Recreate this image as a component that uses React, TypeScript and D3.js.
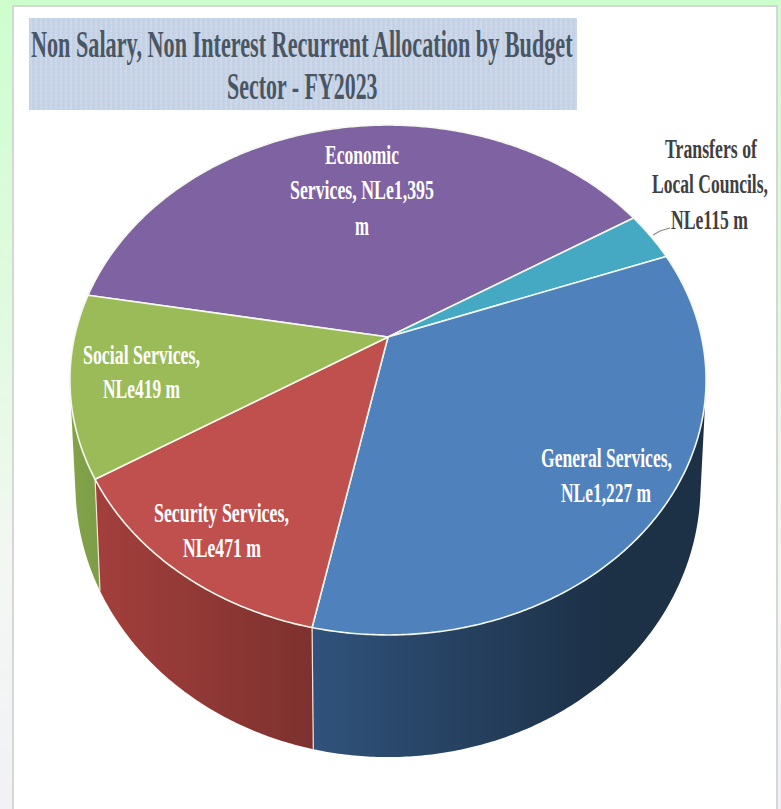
import React from "react";
import * as d3 from "d3";

// Budget sectors, clockwise from the Economic Services slice.
const sectors = [
  "Economic Services",
  "Transfers of Local Councils",
  "General Services",
  "Security Services",
  "Social Services",
];
const allocations = [1395, 115, 1227, 471, 419]; // NLe millions
const lineBreaks = [[1, 2, 1], [2, 2, 2], [2, 2], [2, 2], [2, 2]];
const sliceColors = ["#7f62a1", "#46a9c3", "#4f81bd", "#c0504d", "#9bbb59"];
const wallLeftColors = ["#5f4a7a", "#368095", "#30527b", "#a23f3c", "#83a34a"];
const wallRightColors = ["#4e3c66", "#2c6a7b", "#1c3046", "#7d312e", "#7c9b46"];
const titleLines = [
  "Non Salary, Non Interest Recurrent Allocation by Budget",
  "Sector - FY2023",
];

const WIDTH = 781;
const HEIGHT = 809;
const SERIF = "'Liberation Serif', 'Times New Roman', serif";

// One line box per label line: left edge, width and baseline.
const labelBoxes = [
  [[325, 74, 164], [290, 144, 199], [355, 14, 235]],
  [[665, 92, 158], [652, 116, 193], [671, 77, 229]],
  [[541, 131, 467], [561, 90, 502]],
  [[154, 135, 522], [183, 78, 557]],
  [[83, 117, 364], [103, 77, 398]],
];
const labelFill = ["#fff", "#404040", "#fff", "#fff", "#fff"];
const titleBoxes = [
  [31, 543, 57],
  [227, 151, 99],
];

// The serif face is squeezed to each line's width with a horizontal scale.
const measure = document.createElement("canvas").getContext("2d")!;
const squeeze = (text: string, size: number, width: number) => {
  measure.font = `bold ${size}px ${SERIF}`;
  return width / measure.measureText(text).width;
};

// A horizontal disc seen in perspective: angle (clockwise from the far side) to screen.
type Disc = { cx: number; cy: number; a: number; b: number; k: number };
const topDisc: Disc = { cx: 388, cy: 337, a: 313.5, b: 247.7, k: 0.1686 };
const baseDisc: Disc = { cx: 388, cy: 439, a: 308, b: 264, k: 0.17 };

const project = (d: Disc, angle: number): [number, number] => {
  const u = Math.sin(angle);
  const v = -Math.cos(angle);
  const w = 1 - d.k * v;
  return [d.cx + (d.a * u) / w, d.cy + (d.b * v) / w];
};

const START = (-80 * Math.PI) / 180;
const pie = d3
  .pie<number>()
  .sort(null)
  .startAngle(START)
  .endAngle(START + 2 * Math.PI);
const arcs = pie(allocations);
const outline = d3.line();
const formatValue = d3.format(",");

const sweep = (from: number, to: number) => {
  const steps = Math.max(2, Math.ceil((to - from) / (Math.PI / 360)));
  return d3.range(steps + 1).map((i) => from + ((to - from) * i) / steps);
};

const topPath = (from: number, to: number) =>
  outline([
    [topDisc.cx, topDisc.cy],
    ...sweep(from, to).map((t) => project(topDisc, t)),
  ]) + "Z";

// The outer wall is a run of thin quads with the same winding, so it fills as one shape.
const wallPath = (from: number, to: number) => {
  const angles = sweep(from, to);
  return d3
    .pairs(angles)
    .map(([t0, t1]) => {
      const quad = [
        project(topDisc, t0),
        project(topDisc, t1),
        project(baseDisc, t1),
        project(baseDisc, t0),
      ] as [number, number][];
      if (d3.polygonArea(quad) < 0) quad.reverse();
      return outline(quad) + "Z";
    })
    .join("");
};

const labelLines = (index: number) => {
  const words = `${sectors[index]}, NLe${formatValue(allocations[index])} m`.split(" ");
  let cursor = 0;
  return lineBreaks[index].map((count) => {
    const line = words.slice(cursor, cursor + count).join(" ");
    cursor += count;
    return line;
  });
};

export default function App() {
  return (
    <svg
      width={WIDTH}
      height={HEIGHT}
      viewBox={`0 0 ${WIDTH} ${HEIGHT}`}
      style={{ position: "absolute", left: 0, top: 0, display: "block" }}
    >
      <defs>
        <linearGradient id="page" x1="0" y1="0" x2="0" y2="1">
          <stop offset="0" stopColor="#ccffcc" />
          <stop offset="0.35" stopColor="#defbde" />
          <stop offset="0.7" stopColor="#f3f7f2" />
          <stop offset="1" stopColor="#f1f1f7" />
        </linearGradient>
        <pattern id="weave" width="5" height="4" patternUnits="userSpaceOnUse">
          <rect width="5" height="4" fill="#cad6e8" />
          <path d="M0 1H5M2 3H5" stroke="#bcc9de" strokeWidth="0.7" />
          <path d="M1 0V4" stroke="#d6e0ee" strokeWidth="0.7" />
        </pattern>
        {arcs.map((_, i) => (
          <linearGradient
            key={i}
            id={`wall-${i}`}
            gradientUnits="userSpaceOnUse"
            x1={i === 2 ? 313 : i === 3 ? 100 : 72}
            x2={i === 2 ? 610 : i === 3 ? 314 : 104}
            y1="0"
            y2="0"
          >
            <stop offset="0" stopColor={wallLeftColors[i]} />
            <stop offset="1" stopColor={wallRightColors[i]} />
          </linearGradient>
        ))}
      </defs>

      <rect width={WIDTH} height={HEIGHT} fill="url(#page)" />
      <rect x={13} y={6} width={764} height={HEIGHT} fill="#fff" stroke="#d6d6d6" strokeWidth={2} />

      <rect x={29} y={18} width={548} height={92} fill="url(#weave)" />
      {titleLines.map((line, i) => {
        const [x, width, y] = titleBoxes[i];
        return (
          <text
            key={line}
            transform={`translate(${x},${y}) scale(${squeeze(line, 37, width)},1)`}
            fontFamily={SERIF}
            fontWeight="bold"
            fontSize={37}
            fill="#4a5663"
          >
            {line}
          </text>
        );
      })}

      {/* Outer walls, then the seams between them, then the top face over both. */}
      {arcs.map((d, i) => (
        <path key={i} d={wallPath(d.startAngle, d.endAngle)} fill={`url(#wall-${i})`} />
      ))}
      {arcs.map((d, i) => {
        const [x1, y1] = project(topDisc, d.startAngle);
        const [x2, y2] = project(baseDisc, d.startAngle);
        return <line key={i} x1={x1} y1={y1} x2={x2} y2={y2} stroke="#f2e6d8" strokeWidth={1.2} />;
      })}
      {arcs.map((d, i) => (
        <path
          key={i}
          d={topPath(d.startAngle, d.endAngle)}
          fill={sliceColors[i]}
          stroke="#f4f8ee"
          strokeWidth={1.6}
          strokeLinejoin="round"
        />
      ))}

      {/* Leader from the small slice to its outside label. */}
      <path d="M653 235L660 231L670 228" fill="none" stroke="#8a8a8a" strokeWidth={1.2} />

      {arcs.map((_, i) =>
        labelLines(i).map((line, j) => {
          const [x, width, y] = labelBoxes[i][j];
          return (
            <text
              key={`${i}-${j}`}
              transform={`translate(${x},${y}) scale(${squeeze(line, 27, width)},1)`}
              fontFamily={SERIF}
              fontWeight="bold"
              fontSize={27}
              fill={labelFill[i]}
            >
              {line}
            </text>
          );
        })
      )}
    </svg>
  );
}
